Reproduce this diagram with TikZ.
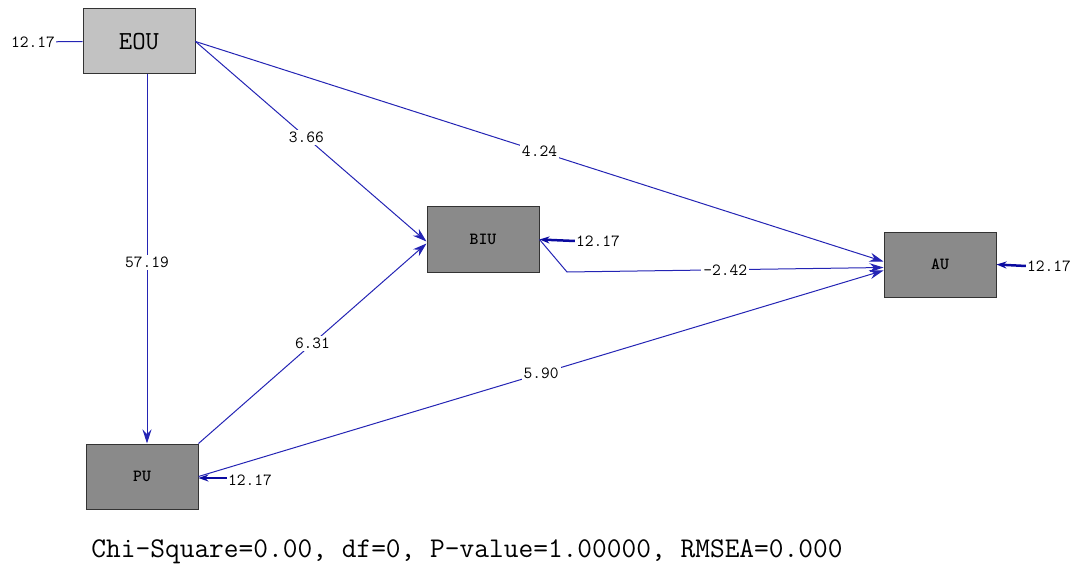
\documentclass[tikz,border=0pt]{standalone}
\usepackage{xcolor}
\usepackage{tikz}
\usetikzlibrary{arrows.meta}
\definecolor{pathblue}{HTML}{2424B4}
\definecolor{tipblue}{HTML}{0A0AA0}
\definecolor{lightbox}{HTML}{C2C2C2}
\definecolor{darkbox}{HTML}{8A8A8A}

\begin{document}
\begin{tikzpicture}[x=1pt,y=-1pt,font=\ttfamily,
var/.style={draw=black!80,line width=1pt,fill=darkbox,minimum width=112pt,minimum height=65pt,font=\ttfamily\bfseries\fontsize{17}{17}\selectfont},
path/.style={-{Stealth[length=14pt,width=9pt]},line width=1pt,draw=pathblue},
err/.style={-{Stealth[length=10pt,width=7pt]},line width=2.5pt,draw=tipblue},
lbl/.style={fill=white,inner sep=2pt,font=\ttfamily\fontsize{17}{17}\selectfont},
errlbl/.style={inner sep=1pt,font=\ttfamily\fontsize{17}{17}\selectfont}]
\useasboundingbox (0,0) rectangle (1077,567);
\node[var,fill=lightbox,font=\ttfamily\fontsize{26}{26}\selectfont] (eou) at (139,41.5) {EOU};
\node[var] (biu) at (483,239.5) {BIU};
\node[var] (au) at (940,264.5) {AU};
\node[var] (pu) at (142,476.5) {PU};
\coordinate (kink) at (567,272);
% error variances
\node[errlbl] (eeou) at (33,42) {12.17};
\node[errlbl] (ebiu) at (598,241) {12.17};
\node[errlbl] (eau) at (1049,266) {12.17};
\node[errlbl] (epu) at (250,480) {12.17};
\draw[line width=1pt,draw=pathblue] (eeou)--(eou.west);
\draw[err] (ebiu.west)--(biu.east);
\draw[err] (eau.west)--(au.east);
\draw[err] ([yshift=2pt]epu.west)--([yshift=-1.5pt]pu.east);
% structural paths
\draw[path] ([xshift=8pt]eou.south)--node[lbl,pos=0.51]{57.19}([xshift=5pt]pu.north);
\draw[path] (eou.east)--node[lbl,pos=0.48]{3.66}([yshift=-2pt]biu.west);
\draw[path] (eou.east)--node[lbl,pos=0.5]{4.24}([yshift=3pt]au.west);
\draw[path] (pu.north east)--node[lbl,pos=0.5]{6.31}([yshift=-4pt]biu.west);
\draw[path] (pu.east)--node[lbl,pos=0.5]{5.90}([yshift=-6pt]au.west);
\draw[path] (biu.east)--(kink)--node[lbl,pos=0.5]{-2.42}([yshift=-3pt]au.west);
\node[font=\ttfamily\fontsize{28.6}{28.6}\selectfont] (fit) at (467,552) {Chi-Square=0.00, df=0, P-value=1.00000, RMSEA=0.000};
\end{tikzpicture}
\end{document}
